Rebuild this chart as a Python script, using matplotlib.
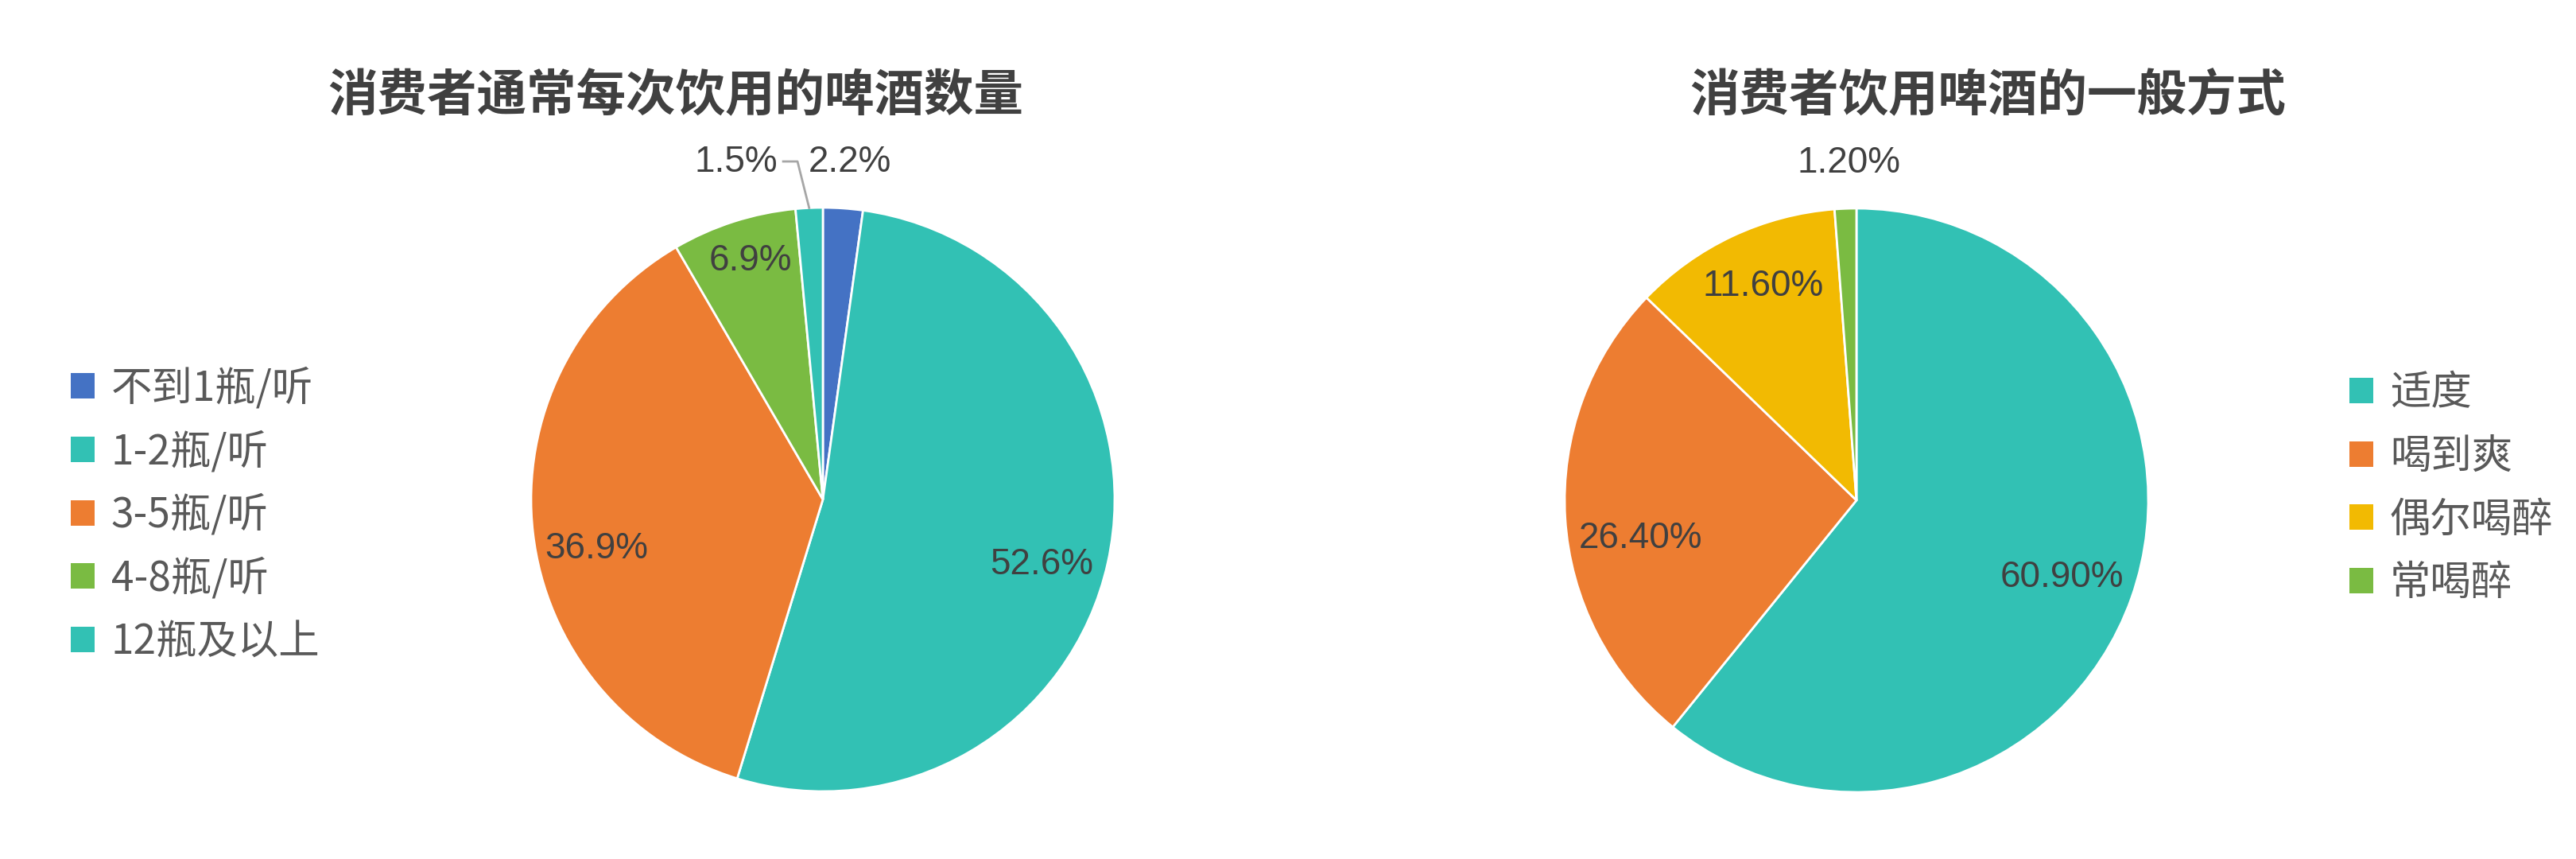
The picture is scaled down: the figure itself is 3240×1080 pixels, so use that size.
import matplotlib
matplotlib.use('Agg')
import matplotlib.pyplot as plt
from matplotlib.patches import Patch
import numpy as np

plt.rcParams['font.family'] = ['Noto Sans CJK SC', 'DejaVu Sans']

# chart 1: beer per occasion
title1 = '消费者通常每次饮用的啤酒数量'
cats1 = ['不到1瓶/听', '1-2瓶/听', '3-5瓶/听', '4-8瓶/听', '12瓶及以上']
vals1 = [2.2, 52.6, 36.9, 6.9, 1.5]

# chart 2: drinking style
title2 = '消费者饮用啤酒的一般方式'
cats2 = ['适度', '喝到爽', '偶尔喝醉', '常喝醉']
vals2 = [60.9, 26.4, 11.6, 1.2]

colors1 = ['#4472C4', '#32C1B4', '#ED7D31', '#7ABB42', '#32C1B4']
colors2 = ['#32C1B4', '#ED7D31', '#F2BA02', '#7ABB42']

# label spots in pie radius units (excel "best fit" look)
pos1 = [(0.093, 1.155), (0.749, -0.223), (-0.777, -0.169), (-0.248, 0.817), (-0.297, 1.155)]
pos2 = [(0.703, -0.264), (-0.741, -0.131), (-0.32, 0.733), (-0.025, 1.155)]

W, H = 3240, 1080
R = 367
pct_font = ['Liberation Sans Narrow', 'Liberation Sans']

fig = plt.figure(figsize=(W / 100, H / 100), dpi=100)


def pie_axes(cx, cy):
    ax = fig.add_axes([(cx - R) / W, (H - cy - R) / H, 2 * R / W, 2 * R / H])
    return ax


def draw(ax, vals, colors, pos, fmt):
    wedges, _ = ax.pie(vals, colors=colors, startangle=90, counterclock=False,
                       wedgeprops=dict(edgecolor='white', linewidth=2))
    ax.set_xlim(-1, 1)
    ax.set_ylim(-1, 1)
    ax.set_aspect('equal')
    for v, (x, y) in zip(vals, pos):
        ax.text(x, y, fmt % v, ha='center', va='center', fontsize=33,
                color='#404040', family=pct_font)
    return wedges


ax1 = pie_axes(1035, 628)
w1 = draw(ax1, vals1, colors1, pos1, '%.1f%%')
ax2 = pie_axes(2335, 629)
w2 = draw(ax2, vals2, colors2, pos2, '%.2f%%')

# leader line for the small 1.5% slice
last = w1[-1]
mid = np.deg2rad((last.theta1 + last.theta2) / 2)
ax1.plot([-0.136, -0.087, np.cos(mid)], [1.158, 1.158, np.sin(mid)],
         color='#A6A6A6', lw=2, clip_on=False)

fig.text(850 / W, 1 - 121 / H, title1, ha='center', va='center',
         fontsize=45, fontweight='bold', color='#404040')
fig.text(2500 / W, 1 - 121 / H, title2, ha='center', va='center',
         fontsize=45, fontweight='bold', color='#404040')

leg_kw = dict(frameon=False, fontsize=37, handlelength=0.58, handleheight=0.58,
              handletextpad=0.41, labelspacing=0.51, borderpad=0, borderaxespad=0,
              labelcolor='#595959')
fig.legend([Patch(facecolor=c) for c in colors1], cats1, loc='center left',
           bbox_to_anchor=(89 / W, 1 - 648 / H), **leg_kw)
fig.legend([Patch(facecolor=c) for c in colors2], cats2, loc='center left',
           bbox_to_anchor=(2955 / W, 1 - 614 / H), **leg_kw)

fig.savefig('out.png', dpi=100, facecolor='white')
